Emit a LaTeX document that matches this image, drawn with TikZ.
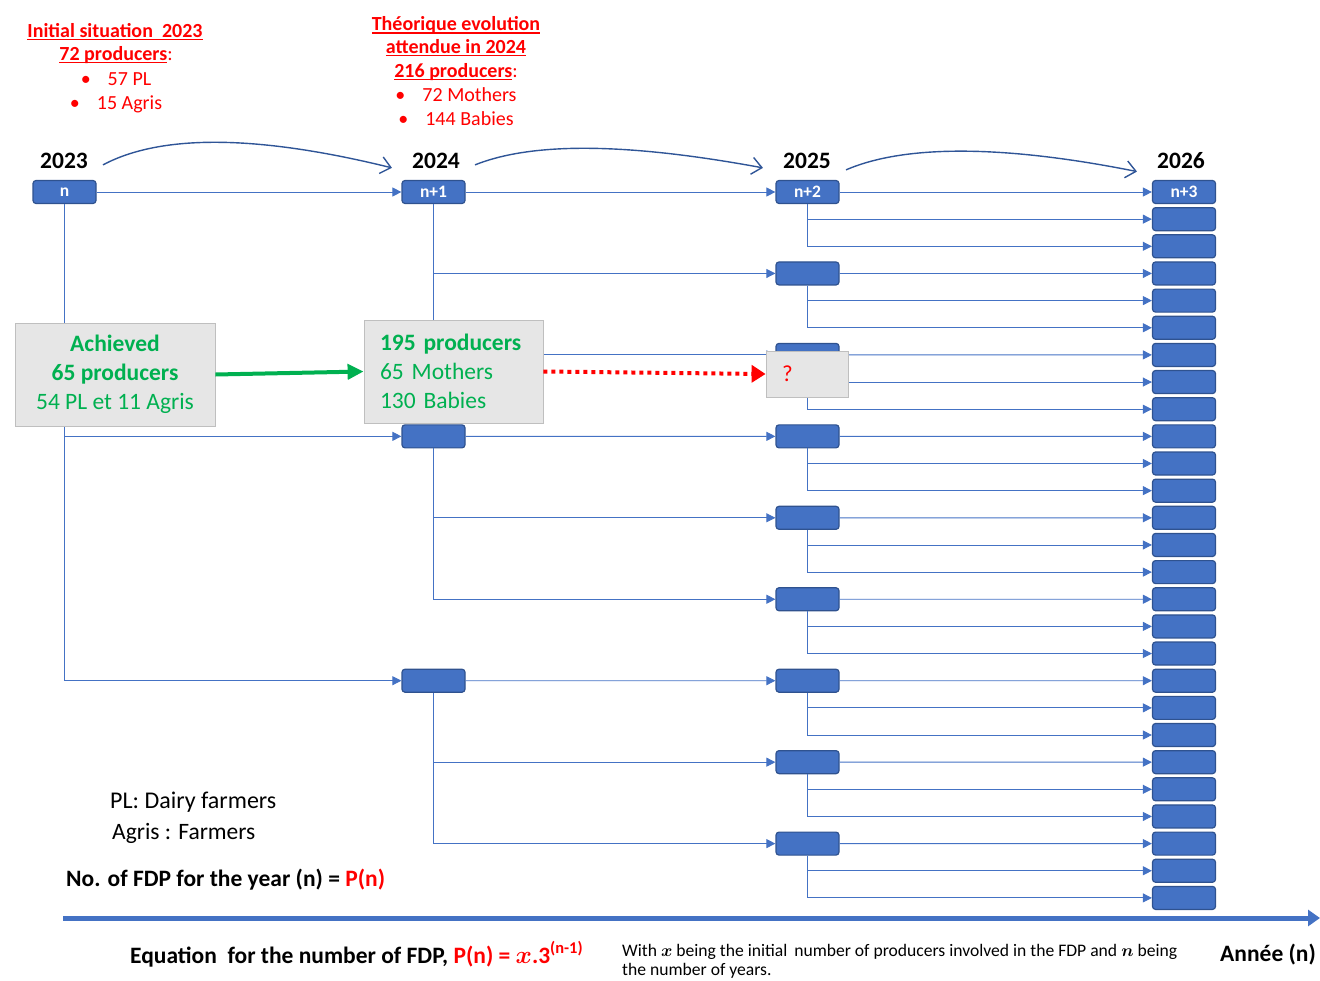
\documentclass[tikz,border=0pt]{standalone}
\usepackage{fontspec}
\setmainfont{Carlito}
\usetikzlibrary{arrows.meta}
\definecolor{boxblue}{HTML}{4472C4}
\definecolor{boxedge}{HTML}{2F528F}
\definecolor{curveblue}{HTML}{2F5597}
\definecolor{okgreen}{HTML}{00B050}
\definecolor{alertred}{HTML}{FF0000}
\definecolor{panelgray}{HTML}{E6E6E6}
\definecolor{paneledge}{HTML}{BFBFBF}
% underline at a fixed depth below the baseline (crosses descenders)
\newsavebox\ulbox
\newcommand{\ulined}[1]{\sbox\ulbox{#1}\rlap{\rule[-2.8pt]{\wd\ulbox}{1.3pt}}\usebox\ulbox}
\begin{document}
\begin{tikzpicture}[x=1pt,y=-1pt,
  fdp/.style={rectangle, rounded corners=3pt, fill=boxblue, draw=boxedge, line width=1.2pt,
    minimum width=63pt, minimum height=23pt, inner sep=0pt, text=white,
    font=\fontsize{17.5}{19}\selectfont\bfseries},
  link/.style={draw=boxblue, line width=0.9pt, -{Triangle[length=9pt,width=9pt]}},
  panel/.style={rectangle, fill=panelgray, draw=paneledge, line width=0.8pt, text=okgreen,
    font=\fontsize{23.5}{29}\selectfont},
  year/.style={font=\fontsize{23.5}{28}\selectfont\bfseries, inner sep=0pt, anchor=base},
  yeararrow/.style={draw=curveblue, line width=1.4pt, -{Straight Barb[length=10pt,width=17pt]}},
  redtxt/.style={font=\fontsize{20}{24}\selectfont, text=alertred, inner sep=0pt, anchor=base},
  plain/.style={inner sep=0pt, anchor=base west},
]
\useasboundingbox (0,0) rectangle (1320,980);

% ---- boxes, one column per year ----
\node[fdp] (a0) at (64.5,192) {n};
\node[fdp] (b0) at (433.5,192) {n+1};
\node[fdp] (b1) at (433.5,436.35) {};
\node[fdp] (b2) at (433.5,680.7) {};
\node[fdp] (c0) at (807.5,192) {n+2};
\foreach \j in {1,...,8} \node[fdp] (c\j) at (807.5,{192+81.45*\j}) {};
\node[fdp] (d0) at (1184,192) {n+3};
\foreach \k in {1,...,26} \node[fdp] (d\k) at (1184,{192+27.15*\k}) {};

% ---- tree connectors ----
\draw[link] (a0.east) -- (b0.west);
\draw[link] (a0.south) |- (b1.west);
\draw[link] (a0.south) |- (b2.west);
\foreach \i in {0,1,2} {
  \pgfmathtruncatemacro\p{3*\i}
  \pgfmathtruncatemacro\q{3*\i+1}
  \pgfmathtruncatemacro\r{3*\i+2}
  \draw[link] (b\i.east) -- (c\p.west);
  \draw[link] (b\i.south) |- (c\q.west);
  \draw[link] (b\i.south) |- (c\r.west);
}
\foreach \j in {0,...,8} {
  \pgfmathtruncatemacro\p{3*\j}
  \pgfmathtruncatemacro\q{3*\j+1}
  \pgfmathtruncatemacro\r{3*\j+2}
  \draw[link] (c\j.east) -- (d\p.west);
  \draw[link] (c\j.south) |- (d\q.west);
  \draw[link] (c\j.south) |- (d\r.west);
}

% ---- year labels and curved arrows ----
\node[year] (y23) at (64,168) {2023};
\node[year] (y24) at (436,168) {2024};
\node[year] (y25) at (807,168) {2025};
\node[year] (y26) at (1181,168) {2026};
\draw[yeararrow] ([xshift=15pt,yshift=-4.5pt]y23.east) .. controls +(60,-32) and +(-130,-32) .. ([xshift=-20pt,yshift=-7.5pt]y24.west);
\draw[yeararrow] ([xshift=15pt,yshift=-4.5pt]y24.east) .. controls +(60,-24) and +(-130,-24) .. ([xshift=-20pt,yshift=-7.5pt]y25.west);
\draw[yeararrow] ([xshift=15pt,yshift=-9.5pt]y25.east) .. controls +(60,-26) and +(-130,-26) .. ([xshift=-20pt,yshift=-11.5pt]y26.west);

% ---- grey panels ----
\node[panel, minimum width=200pt, minimum height=103pt, inner sep=0pt, align=center] (ach) at (115,374.5)
  {\bfseries Achieved\\\bfseries 65 producers\\54 PL et 11 Agris};
\node[panel, minimum width=179pt, minimum height=103pt, text width=147pt, inner xsep=16pt, inner ysep=0pt, align=left] (mid) at (453.5,371.5)
  {\textbf{195 producers}\\65 Mothers\\130 Babies};
\node[panel, text=alertred, minimum width=82pt, minimum height=46pt, text width=60pt, inner xsep=11pt, inner ysep=0pt, align=left,
  font=\fontsize{23}{26}\selectfont] (q) at (807,374) {\hspace{5pt}?};
\draw[okgreen, line width=4pt, -{Triangle[length=16pt,width=15pt]}] (ach.east) -- (mid.west);
\draw[alertred, line width=4pt, dash pattern=on 4pt off 4pt, -{Triangle[length=14pt,width=17pt]}] (mid.east) -- (q.west);

% ---- headings in red ----
\node[redtxt] (h1) at (115,37) {\bfseries\ulined{Initial situation\ \ 2023}};
\node[redtxt] (h2) at (116,60.5) {\ulined{\bfseries 72 producers}:};
\node[redtxt] (h3) at (116,85) {\textbullet\hspace{17pt}57 PL};
\node[redtxt] (h4) at (116,109) {\textbullet\hspace{17pt}15 Agris};
\node[redtxt] (t1) at (456,30.7) {\bfseries\ulined{Théorique evolution}};
\node[redtxt] (t2) at (456,53.5) {\bfseries\ulined{attendue in 2024}};
\node[redtxt] (t3) at (456,77) {\ulined{\bfseries 216 producers}:};
\node[redtxt] (t4) at (456,101) {\textbullet\hspace{17pt}72 Mothers};
\node[redtxt] (t5) at (456,125) {\textbullet\hspace{17pt}144 Babies};

% ---- legend and formula ----
\node[plain, font=\fontsize{24}{28}\selectfont] (lg1) at (110,808) {PL: Dairy farmers};
\node[plain, font=\fontsize{23.5}{28}\selectfont] (lg2) at (112,839) {Agris : Farmers};
\node[plain, font=\fontsize{23.5}{28}\selectfont\bfseries] (pn) at (66,886)
  {No. of FDP for the year (n) = \textcolor{alertred}{P(n)}};

\coordinate (ax0) at (63,918);
\coordinate (ax1) at (1320,918);
\draw[boxblue, line width=5pt, -{Triangle[length=12pt,width=16pt]}] (ax0) -- (ax1);

\node[plain, font=\fontsize{23.5}{28}\selectfont\bfseries] (eq) at (130,963)
  {Equation\ \ for the number of FDP, \textcolor{alertred}{P(n) = {\boldmath$x$}.3\textsuperscript{(n-1)}}};
\node[plain, font=\fontsize{17.6}{20}\selectfont] (w1) at (622,956)
  {With {\boldmath$x$} being the initial\, number of producers involved in the FDP and {\boldmath$n$} being};
\node[plain, font=\fontsize{17.6}{20}\selectfont] (w2) at (622,975) {the number of years.};
\node[plain, font=\fontsize{23.5}{28}\selectfont\bfseries] (an) at (1220,961) {Année (n)};
\end{tikzpicture}
\end{document}
